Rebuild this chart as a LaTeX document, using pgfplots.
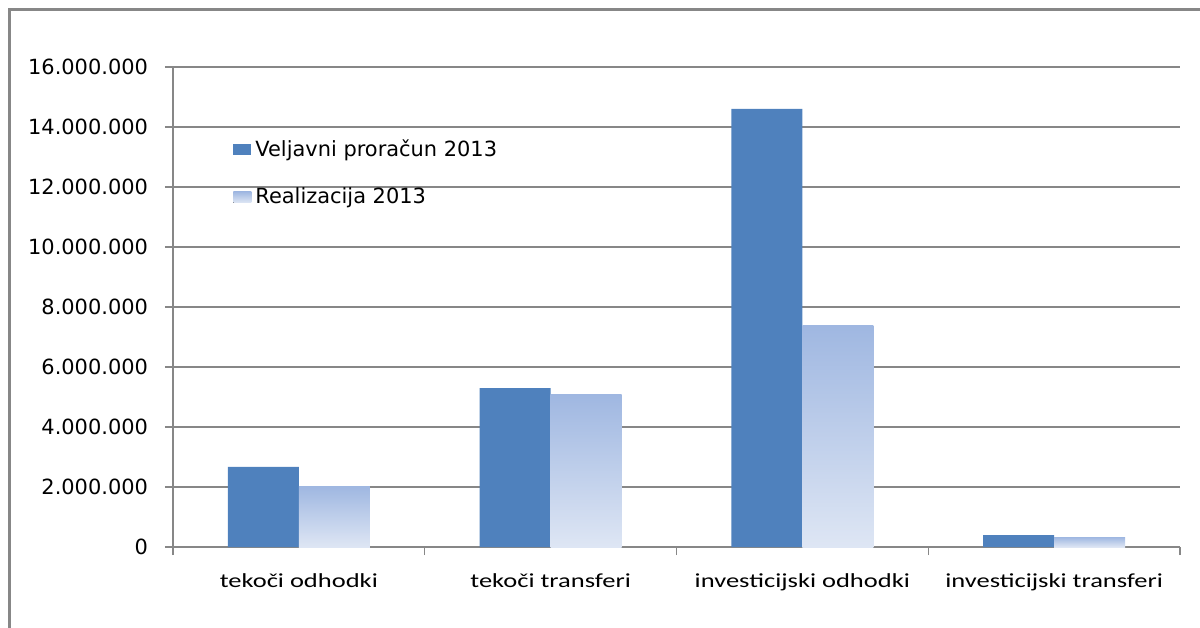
\documentclass[border=0pt]{standalone}
\usepackage{fontspec}
\setmainfont{DejaVu Sans}
\newfontfamily\catfont{Carlito}
\usepackage{graphicx}
\usepackage{pgfplots}
\pgfplotsset{compat=1.18}
\definecolor{dark}{HTML}{4F81BD}
\definecolor{lighttop}{HTML}{9FB7E1}
\definecolor{lightbot}{HTML}{DEE6F4}
\definecolor{gridgray}{HTML}{878787}
\pgfplotsset{sqlegend/.style={legend image code/.code={\fill[##1] (0bp,-2.75bp) rectangle (9bp,2.75bp);}},
  lightbar/.style={ybar, bar width=0.282, bar shift=0.141, top color=lighttop, bottom color=lightbot, draw=none, sqlegend}}
\newcommand{\cat}[1]{\scalebox{1.33}[1]{\catfont\fontsize{10}{12}\selectfont #1}}
\begin{document}
\begin{tikzpicture}
\useasboundingbox (-86.5bp,-40.5bp) rectangle (513.5bp,273.5bp);
\draw[gridgray, line width=1.5bp] (-81.5bp,-60bp) -- (-81.5bp,268.5bp) -- (530bp,268.5bp);
\begin{axis}[
  at={(0,0)}, anchor=south west,
  scale only axis, width=503.5bp, height=240bp,
  xmin=-0.5, xmax=3.5, ymin=0, ymax=16000000,
  axis lines=left, axis line style={gridgray, -, line width=0.7bp},
  ytick={0,2000000,4000000,6000000,8000000,10000000,12000000,14000000,16000000},
  scaled y ticks=false,
  ymajorgrids, grid style={gridgray, line width=0.7bp},
  tick style={gridgray, line width=0.7bp},
  tick align=outside, major tick length=4bp,
  xtick={-0.5,0.5,1.5,2.5,3.5},
  xticklabels={\cat{tekoči odhodki},\cat{tekoči transferi},\cat{investicijski odhodki},\cat{investicijski transferi}},
  x tick label as interval,
  tick label style={font=\fontsize{10.5}{12}\selectfont},
  yticklabel style={xshift=-5bp},
  xticklabel style={anchor=base, yshift=-16bp},
  /pgf/number format/.cd, fixed, 1000 sep={.}, assume math mode=true,
  /pgfplots/.cd,
  legend style={draw=none, fill=none, at={(rel axis cs:0.0596,0.857)}, anchor=north west,
    font=\fontsize{10.5}{12}\selectfont, row sep=10bp, inner sep=0pt, cells={anchor=west}},
]
\addplot[ybar, bar width=0.282, bar shift=-0.141, fill=dark, draw=none, sqlegend]
  coordinates {(0,2670000) (1,5300000) (2,14600000) (3,400000)};
\addlegendentry{Veljavni proračun 2013}
\addplot[lightbar] coordinates {(0,2030000)};
\addlegendentry{Realizacija 2013}
\addplot[lightbar, forget plot] coordinates {(1,5100000)};
\addplot[lightbar, forget plot] coordinates {(2,7400000)};
\addplot[lightbar, forget plot] coordinates {(3,330000)};
\end{axis}
\end{tikzpicture}
\end{document}
